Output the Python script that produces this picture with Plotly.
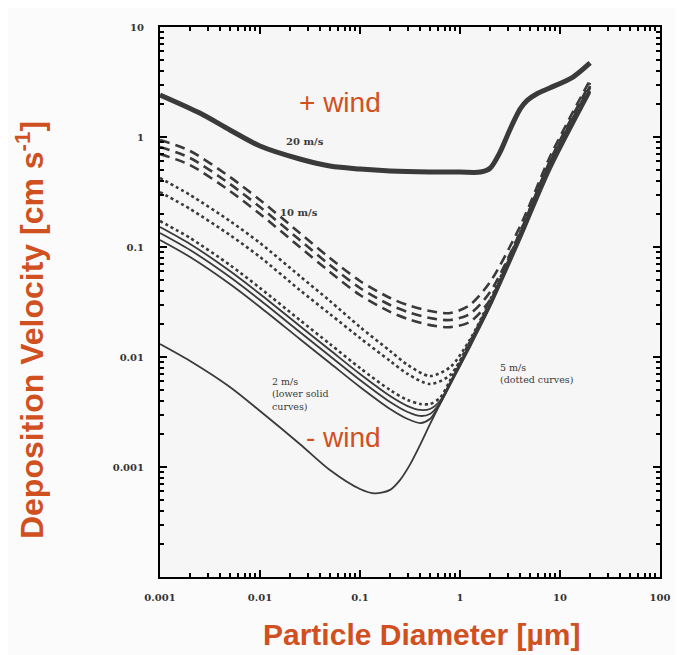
import plotly.graph_objects as go

# ---------------- data ----------------
# 20 m/s curve (thick solid)
x_20 = [0.001, 0.0025, 0.005, 0.01, 0.025, 0.05, 0.1, 0.2, 0.5, 1.0, 1.6, 2.0, 2.5, 3.0, 3.4, 4.0, 4.7, 6.0, 7.9, 13.5, 20]
v_20 = [2.41, 1.65, 1.158, 0.828, 0.631, 0.545, 0.511, 0.491, 0.481, 0.48, 0.48, 0.52, 0.72, 1.05, 1.35, 1.8, 2.15, 2.5, 2.79, 3.51, 4.71]

# 10 m/s curves (dashed) and 5 m/s upper dotted curves share this x grid
x_upper = [0.001, 0.002, 0.005, 0.01, 0.025, 0.05, 0.1, 0.2, 0.3, 0.5, 0.8, 1.25, 2, 4, 8, 20]
v_10a = [0.939, 0.746, 0.433, 0.2675, 0.1341, 0.0794, 0.0491, 0.0344, 0.0297, 0.0262, 0.0251, 0.0297, 0.0481, 0.155, 0.671, 3.30]
v_10b = [0.811, 0.644, 0.374, 0.231, 0.1158, 0.0686, 0.0424, 0.0297, 0.0257, 0.0226, 0.0217, 0.0246, 0.0390, 0.1369, 0.618, 3.10]
v_10c = [0.700, 0.556, 0.323, 0.1995, 0.100, 0.0593, 0.0366, 0.0257, 0.0222, 0.0195, 0.0187, 0.0208, 0.0330, 0.121, 0.581, 2.91]
v_5a = [0.424, 0.297, 0.1723, 0.1087, 0.0545, 0.0323, 0.01874, 0.01134, 0.00846, 0.00672, 0.00811, 0.01427, 0.0330, 0.1369, 0.605, 2.85]
v_5b = [0.316, 0.2216, 0.1285, 0.0811, 0.0406, 0.0246, 0.01489, 0.00920, 0.00701, 0.00568, 0.00686, 0.01369, 0.0316, 0.1341, 0.593, 2.79]

# lower group: third dotted (5 m/s) and 2 m/s solid curves
x_lower = [0.001, 0.002, 0.005, 0.01, 0.025, 0.05, 0.1, 0.2, 0.3, 0.4, 0.5, 0.63, 0.8, 1.25, 2, 4, 8, 20]
v_5c = [0.1723, 0.1207, 0.0686, 0.0424, 0.0217, 0.01313, 0.00794, 0.00501, 0.00406, 0.00374, 0.00374, 0.00424, 0.00618, 0.01341, 0.0303, 0.1313, 0.568, 2.675]
v_2a = [0.1520, 0.1065, 0.0605, 0.0374, 0.01913, 0.01158, 0.00701, 0.00442, 0.00358, 0.00330, 0.00337, 0.00398, 0.00593, 0.01313, 0.0297, 0.1285, 0.556, 2.62]
v_2b = [0.1341, 0.0939, 0.0534, 0.0330, 0.01688, 0.01021, 0.00618, 0.00390, 0.00316, 0.00291, 0.00303, 0.00382, 0.00580, 0.01285, 0.0291, 0.1259, 0.545, 2.57]
v_2c = [0.1158, 0.0811, 0.0461, 0.0285, 0.01458, 0.00882, 0.00534, 0.00337, 0.00273, 0.00251, 0.00273, 0.00374, 0.00568, 0.01259, 0.0291, 0.1233, 0.534, 2.57]

# lowest curve
x_low = [0.001, 0.002, 0.005, 0.01, 0.025, 0.05, 0.1, 0.141, 0.2, 0.251, 0.316, 0.398, 0.501, 0.631, 0.794, 1.259, 2, 4, 8, 20]
v_low = [0.01313, 0.0092, 0.00534, 0.00323, 0.00162, 0.000939, 0.000631, 0.000575, 0.00062, 0.00076, 0.00105, 0.00158, 0.00245, 0.00374, 0.00556, 0.01233, 0.0285, 0.116, 0.501, 2.51]

x_tickvals = [0.001, 0.01, 0.1, 1, 10, 100]
x_ticktext = ["<b>0.001</b>", "<b>0.01</b>", "<b>0.1</b>", "<b>1</b>", "<b>10</b>", "<b>100</b>"]
y_tickvals = [0.001, 0.01, 0.1, 1, 10]
y_ticktext = ["<b>0.001</b>", "<b>0.01</b>", "<b>0.1</b>", "<b>1</b>", "<b>10</b>"]

# ---------------- styling ----------------
INK = "#3a3a3a"
ORANGE = "#D0501F"

fig = go.Figure()

def add(x, y, width, dash="solid"):
    fig.add_trace(go.Scatter(
        x=x, y=y, mode="lines",
        line=dict(color=INK, width=width, dash=dash, shape="spline", smoothing=0.8),
        hoverinfo="skip", showlegend=False))

add(x_20, v_20, 5)
for v in (v_10a, v_10b, v_10c):
    add(x_upper, v, 2.6, "10px,6px")
for v in (v_5a, v_5b):
    add(x_upper, v, 2.6, "dot")
add(x_lower, v_5c, 2.6, "dot")
for v in (v_2a, v_2b, v_2c):
    add(x_lower, v, 1.8)
add(x_low, v_low, 1.8)

tickfont = dict(family="DejaVu Serif", size=10, color="#333333")

fig.update_xaxes(
    type="log", range=[-3, 2],
    tickvals=x_tickvals, ticktext=x_ticktext,
    ticks="inside", ticklen=7, tickwidth=2, tickcolor="black",
    showline=True, linecolor="black", linewidth=2, mirror="allticks",
    showgrid=False, zeroline=False, tickfont=tickfont, ticklabelstandoff=10,
    minor=dict(ticks="inside", ticklen=4, tickwidth=1.5, tickcolor="black", dtick="D1", showgrid=False),
)
fig.update_yaxes(
    type="log", range=[-4, 1],
    tickvals=y_tickvals, ticktext=y_ticktext,
    ticks="inside", ticklen=7, tickwidth=2, tickcolor="black",
    showline=True, linecolor="black", linewidth=2, mirror="allticks",
    showgrid=False, zeroline=False, tickfont=tickfont, ticklabelstandoff=12,
    minor=dict(ticks="inside", ticklen=4, tickwidth=1.5, tickcolor="black", dtick="D1", showgrid=False),
)

def note(text, x, y, size, color, family, xanchor="center", align="center", angle=0):
    fig.add_annotation(text=text, xref="paper", yref="paper", x=x, y=y,
                       showarrow=False, xanchor=xanchor, yanchor="middle", align=align,
                       textangle=angle, font=dict(size=size, color=color, family=family))

serif = "DejaVu Serif"
note("+ wind", 0.36, 0.862, 28, ORANGE, "Liberation Sans")
note("- wind", 0.366, 0.253, 28, ORANGE, "Liberation Sans")
note("<b>20 m/s</b>", 0.29, 0.791, 10, INK, serif)
note("<b>10 m/s</b>", 0.278, 0.662, 10, INK, serif)
note("5 m/s<br>(dotted curves)", 0.676, 0.37, 9.5, INK, serif, xanchor="left", align="left")
note("2 m/s<br>(lower solid<br>curves)", 0.22, 0.333, 9.5, INK, serif, xanchor="left", align="left")

note("<b>Particle Diameter [µm]</b>", 0.522, -0.105, 30, ORANGE, "Liberation Sans")
note("<b>Deposition Velocity [cm s<sup>-1</sup>]</b>", -0.26, 0.449, 32, ORANGE, "Liberation Sans", angle=-90)

fig.update_layout(
    width=683, height=655,
    margin=dict(l=152, r=31, t=19, b=86),
    paper_bgcolor="#fbfbfb", plot_bgcolor="#f6f6f6",
    showlegend=False,
)

fig.write_html("out.html")
